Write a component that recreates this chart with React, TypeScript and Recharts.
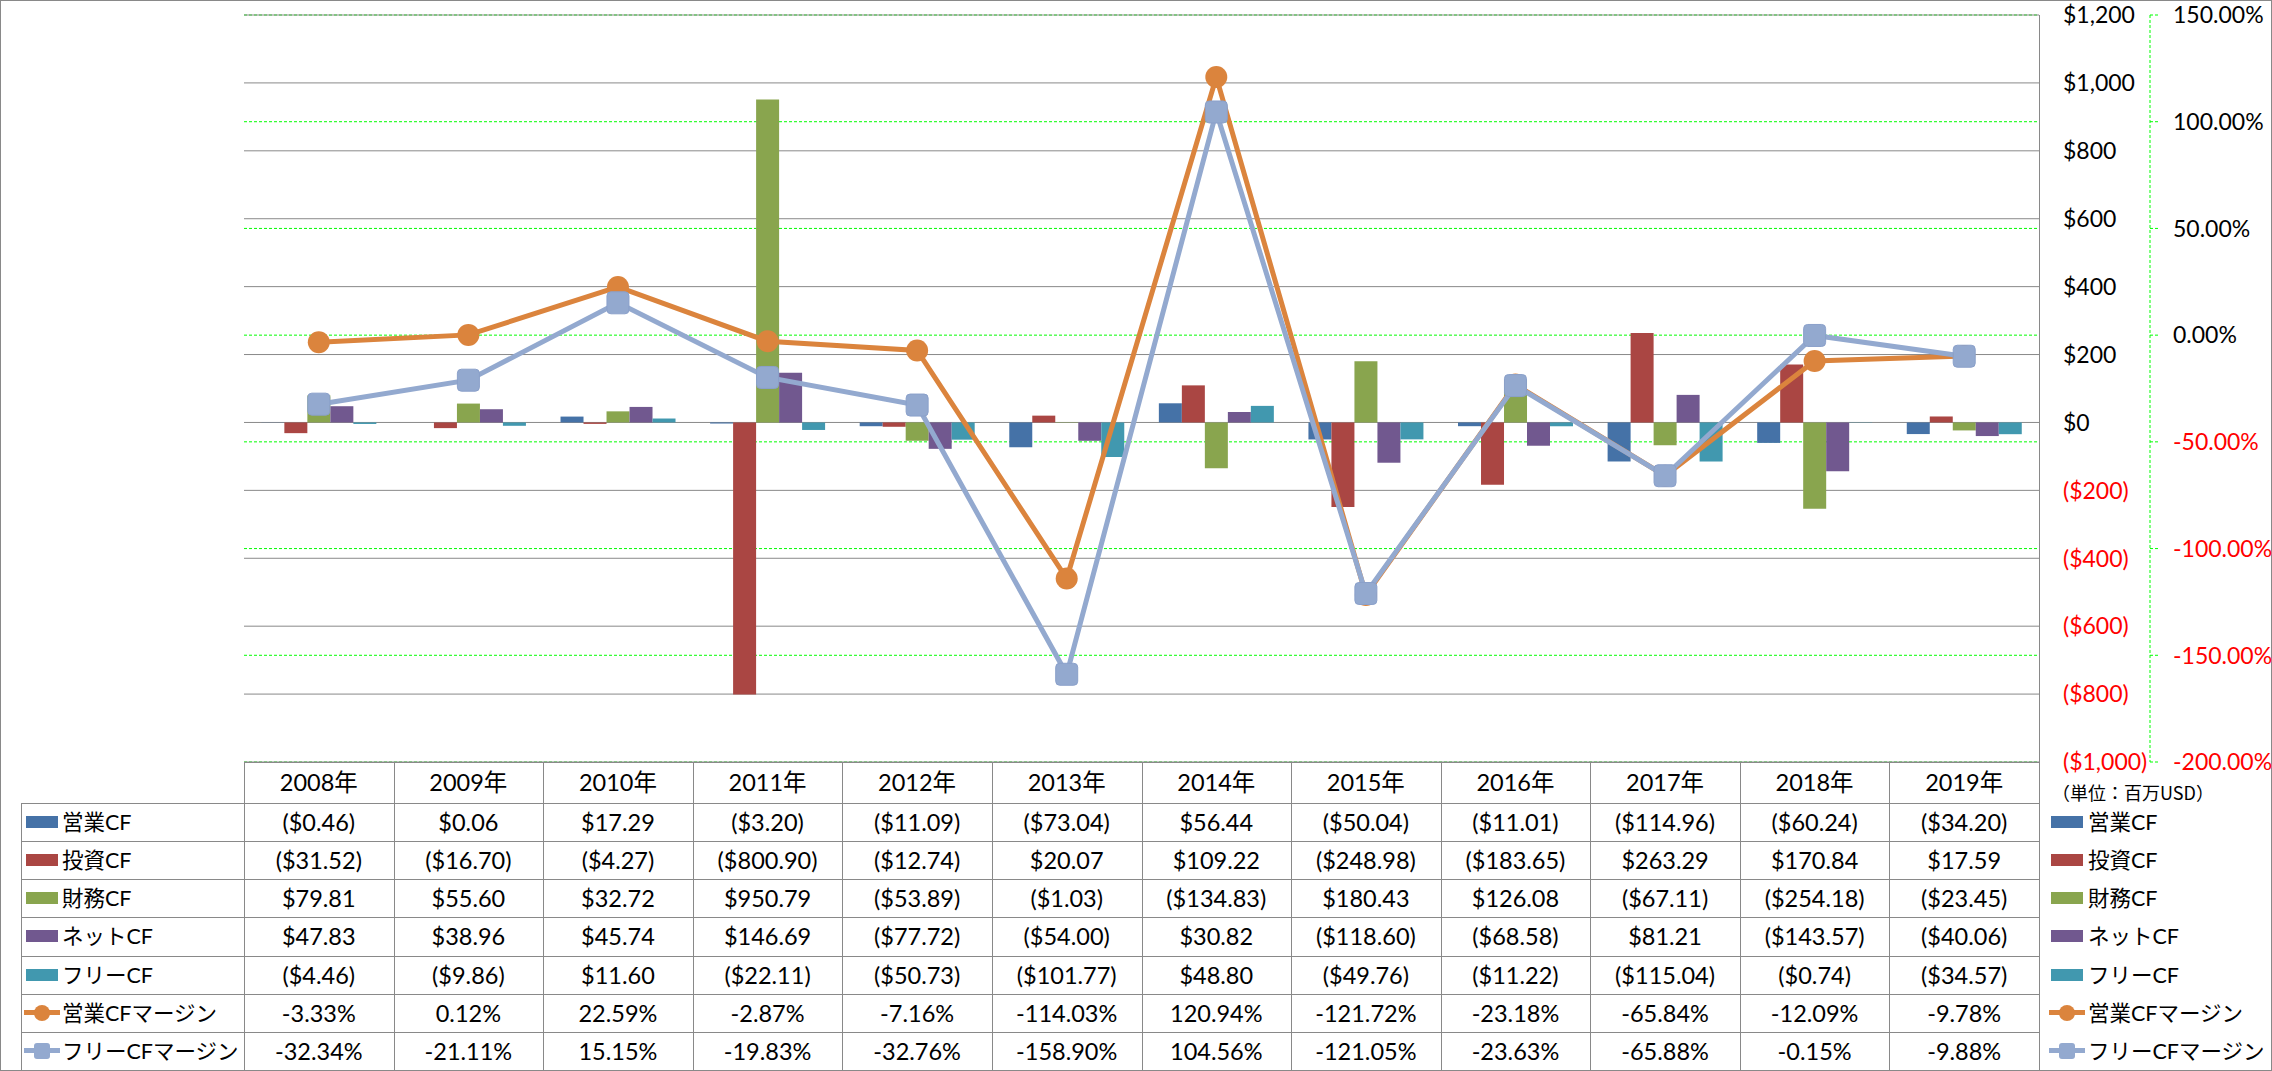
import React from 'react';
import { ComposedChart, Bar, Line, XAxis, YAxis, CartesianGrid } from 'recharts';

const years = ['2008年', '2009年', '2010年', '2011年', '2012年', '2013年', '2014年', '2015年', '2016年', '2017年', '2018年', '2019年'];

// 単位: 百万USD
const opCF = [-0.46, 0.06, 17.29, -3.2, -11.09, -73.04, 56.44, -50.04, -11.01, -114.96, -60.24, -34.2];
const invCF = [-31.52, -16.7, -4.27, -800.9, -12.74, 20.07, 109.22, -248.98, -183.65, 263.29, 170.84, 17.59];
const finCF = [79.81, 55.6, 32.72, 950.79, -53.89, -1.03, -134.83, 180.43, 126.08, -67.11, -254.18, -23.45];
const netCF = [47.83, 38.96, 45.74, 146.69, -77.72, -54.0, 30.82, -118.6, -68.58, 81.21, -143.57, -40.06];
const freeCF = [-4.46, -9.86, 11.6, -22.11, -50.73, -101.77, 48.8, -49.76, -11.22, -115.04, -0.74, -34.57];
// %
const opMargin = [-3.33, 0.12, 22.59, -2.87, -7.16, -114.03, 120.94, -121.72, -23.18, -65.84, -12.09, -9.78];
const freeMargin = [-32.34, -21.11, 15.15, -19.83, -32.76, -158.9, 104.56, -121.05, -23.63, -65.88, -0.15, -9.88];

const usdTicks = [-1000, -800, -600, -400, -200, 0, 200, 400, 600, 800, 1000, 1200];
const pctTicks = [-200, -150, -100, -50, 0, 50, 100, 150];

const W = 2272;
const H = 1071;
const PLOT_L = 244;
const PLOT_R = 2039;
const PLOT_T = 15;
const PLOT_B = 762;
const HEAD_B = 803;
const ROW_H = (1070 - HEAD_B) / 7;
const COL_W = (PLOT_R - PLOT_L) / 12;
const FONT = 'Lato, "Noto Sans CJK JP", sans-serif';
const GRID = '#898989';
const GREEN = '#00FF00';
const AXIS_FS = 23;
const TABLE_FS = 23.5;
const LABEL_FS = 21.5;

const series = [
  { key: 'op', name: '営業CF', color: '#4572A7', values: opCF, kind: 'bar' },
  { key: 'inv', name: '投資CF', color: '#AA4643', values: invCF, kind: 'bar' },
  { key: 'fin', name: '財務CF', color: '#89A54E', values: finCF, kind: 'bar' },
  { key: 'net', name: 'ネットCF', color: '#71588F', values: netCF, kind: 'bar' },
  { key: 'free', name: 'フリーCF', color: '#4198AF', values: freeCF, kind: 'bar' },
  { key: 'opm', name: '営業CFマージン', color: '#DB843D', values: opMargin, kind: 'circle' },
  { key: 'freem', name: 'フリーCFマージン', color: '#93A9CF', values: freeMargin, kind: 'square' },
];

const data = years.map((y, i) => {
  const row: Record<string, string | number> = { year: y };
  series.forEach((s) => { row[s.key] = s.values[i]; });
  return row;
});

const fmtMoney = (v: number) => (v < 0 ? `($${Math.abs(v).toFixed(2)})` : `$${v.toFixed(2)}`);
const fmtPct = (v: number) => `${v.toFixed(2)}%`;
const fmtUsdAxis = (v: number) => {
  const s = '$' + Math.abs(v).toLocaleString('en-US');
  return v < 0 ? `(${s})` : s;
};

function UsdTick(props: any) {
  const { x, y, payload } = props;
  const v = payload.value as number;
  return (
    <text x={x} y={y} dy="0.36em" textAnchor="start" fontSize={AXIS_FS} fontFamily={FONT} fill={v < 0 ? '#FF0000' : '#000'}>
      {fmtUsdAxis(v)}
    </text>
  );
}

function PctTick(props: any) {
  const { x, y, payload } = props;
  const v = payload.value as number;
  return (
    <text x={x} y={y} dy="0.36em" textAnchor="start" fontSize={AXIS_FS} fontFamily={FONT} fill={v < 0 ? '#FF0000' : '#000'}>
      {v.toFixed(2) + '%'}
    </text>
  );
}

const circleDot = (p: any) => <circle key={`c${p.index}`} cx={p.cx} cy={p.cy} r={11} fill="#DB843D" />;
const squareDot = (p: any) => (
  <rect key={`s${p.index}`} x={p.cx - 11} y={p.cy - 11} width={22} height={22} rx={4} fill="#93A9CF" stroke="#8AA0CA" strokeWidth={1} />
);

function LegendKey({ kind, color, x }: { kind: string; color: string; x: number }) {
  if (kind === 'bar') {
    return <div style={{ position: 'absolute', left: x, top: '50%', marginTop: -6, width: 32, height: 12, background: color }} />;
  }
  return (
    <>
      <div style={{ position: 'absolute', left: x - 2, top: '50%', marginTop: -2.5, width: 36, height: 5, background: color }} />
      <div
        style={{
          position: 'absolute', left: x + 16 - 8, top: '50%', marginTop: -8, width: 16, height: 16,
          borderRadius: kind === 'circle' ? 8 : 3, background: color,
        }}
      />
    </>
  );
}

function Table() {
  const lines: React.ReactNode[] = [];
  lines.push(<div key="h-top" style={{ position: 'absolute', left: PLOT_L, top: PLOT_B, width: PLOT_R - PLOT_L, height: 1, background: GRID }} />);
  for (let r = 0; r <= 7; r++) {
    const y = HEAD_B + r * ROW_H;
    lines.push(<div key={`h${r}`} style={{ position: 'absolute', left: 21, top: y, width: PLOT_R - 21, height: 1, background: GRID }} />);
  }
  lines.push(<div key="v-left" style={{ position: 'absolute', left: 21, top: HEAD_B, width: 1, height: 7 * ROW_H, background: GRID }} />);
  for (let c = 0; c <= 12; c++) {
    const x = PLOT_L + c * COL_W;
    const top = c === 12 ? PLOT_T : PLOT_B;
    lines.push(<div key={`v${c}`} style={{ position: 'absolute', left: x, top, width: 1, height: 1070 - top, background: GRID }} />);
  }
  const cells: React.ReactNode[] = [];
  years.forEach((y, c) => {
    cells.push(
      <div key={`y${c}`} style={{ position: 'absolute', left: PLOT_L + c * COL_W, top: PLOT_B, width: COL_W, height: HEAD_B - PLOT_B, lineHeight: `${HEAD_B - PLOT_B}px`, textAlign: 'center' }}>
        {y}
      </div>,
    );
  });
  series.forEach((s, r) => {
    const top = HEAD_B + r * ROW_H;
    cells.push(
      <div key={`l${r}`} style={{ position: 'absolute', left: 21, top, width: PLOT_L - 21, height: ROW_H }}>
        <LegendKey kind={s.kind} color={s.color} x={5} />
        <div style={{ position: 'absolute', left: 41, top: 0, fontSize: LABEL_FS, lineHeight: `${ROW_H}px`, whiteSpace: 'nowrap' }}>{s.name}</div>
      </div>,
    );
    cells.push(
      <div key={`r${r}`} style={{ position: 'absolute', left: 2030, top, width: 240, height: ROW_H }}>
        <LegendKey kind={s.kind} color={s.color} x={21} />
        <div style={{ position: 'absolute', left: 58, top: 0, fontSize: LABEL_FS, lineHeight: `${ROW_H}px`, whiteSpace: 'nowrap' }}>{s.name}</div>
      </div>,
    );
    s.values.forEach((v, c) => {
      cells.push(
        <div key={`d${r}-${c}`} style={{ position: 'absolute', left: PLOT_L + c * COL_W, top, width: COL_W, height: ROW_H, lineHeight: `${ROW_H}px`, textAlign: 'center' }}>
          {s.kind === 'bar' ? fmtMoney(v) : fmtPct(v)}
        </div>,
      );
    });
  });
  return (
    <div style={{ position: 'absolute', left: 0, top: 0, width: W, height: H, fontFamily: FONT, fontSize: TABLE_FS, color: '#000' }}>
      {lines}
      {cells}
      <div style={{ position: 'absolute', left: 2052, top: 778, fontSize: 18, fontFamily: '"Noto Sans CJK JP", sans-serif', whiteSpace: 'nowrap', lineHeight: '28px' }}>
        （単位：百万USD）
      </div>
    </div>
  );
}

export default function App() {
  return (
    <div style={{ position: 'relative', width: W, height: H, background: '#fff', overflow: 'hidden' }}>
      <style>{'body{margin:0}'}</style>
      <div style={{ position: 'absolute', left: 0, top: 0, width: W, height: H, boxSizing: 'border-box', border: `1px solid ${GRID}` }} />
      <div style={{ position: 'absolute', left: 0, top: 0 }}>
        <ComposedChart
          width={W}
          height={H}
          data={data}
          margin={{ top: PLOT_T, left: PLOT_L, right: 0, bottom: H - PLOT_B }}
          barCategoryGap="11.6%"
          barGap={0}
        >
          <XAxis dataKey="year" hide />
          <YAxis
            yAxisId="b_pct"
            orientation="right"
            width={122}
            domain={[-200, 150]}
            ticks={pctTicks}
            interval={0}
            axisLine={{ stroke: GREEN, strokeDasharray: '3 2' }}
            tickLine={{ stroke: GREEN, strokeDasharray: '3 2' }}
            tickSize={8}
            tickMargin={15}
            tick={<PctTick />}
          />
          <YAxis
            yAxisId="a_usd"
            orientation="right"
            width={111}
            domain={[-1000, 1200]}
            ticks={usdTicks}
            interval={0}
            axisLine={false}
            tickLine={false}
            tickSize={0}
            tickMargin={24}
            tick={<UsdTick />}
          />
          <CartesianGrid yAxisId="b_pct" vertical={false} stroke={GREEN} strokeDasharray="3 2" />
          <CartesianGrid yAxisId="a_usd" vertical={false} stroke={GRID} />
          {series.filter((s) => s.kind === 'bar').map((s) => (
            <Bar key={s.key} dataKey={s.key} name={s.name} yAxisId="a_usd" fill={s.color} isAnimationActive={false} />
          ))}
          <Line dataKey="opm" name="営業CFマージン" yAxisId="b_pct" stroke="#DB843D" strokeWidth={5} dot={circleDot} activeDot={false} isAnimationActive={false} />
          <Line dataKey="freem" name="フリーCFマージン" yAxisId="b_pct" stroke="#93A9CF" strokeWidth={5} dot={squareDot} activeDot={false} isAnimationActive={false} />
        </ComposedChart>
      </div>
      <Table />
    </div>
  );
}
